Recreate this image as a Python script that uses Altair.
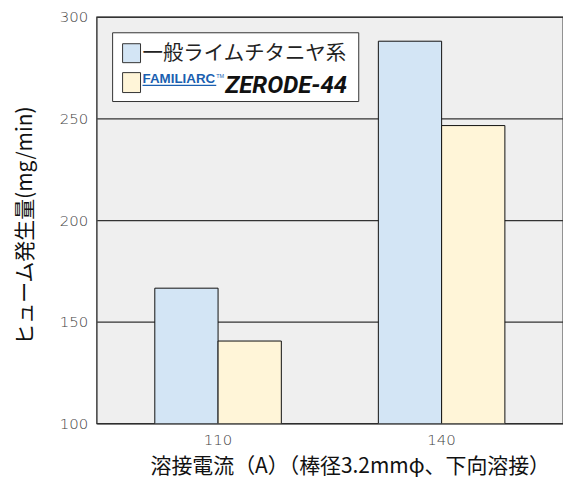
import altair as alt
import pandas as pd

currents = ["110", "110", "140", "140"]
series = ["一般ライムチタニヤ系", "ZERODE-44", "一般ライムチタニヤ系", "ZERODE-44"]
fume = [166.5, 140.5, 288, 246.5]

series_order = ["一般ライムチタニヤ系", "ZERODE-44"]
series_colors = ["#d3e5f5", "#fff5d8"]

FONT = "Noto Sans CJK JP"
NUMFONT = "DejaVu Sans"

df = pd.DataFrame({"current": currents, "series": series, "fume": fume})

bars = alt.Chart(df).mark_bar(stroke="#111111", strokeWidth=1, clip=True).encode(
    x=alt.X("current:N", sort=["110", "140"],
            scale=alt.Scale(paddingInner=0.434, paddingOuter=0.26),
            axis=alt.Axis(title="溶接電流（A）（棒径3.2mmφ、下向溶接）", labelAngle=0,
                          ticks=False, domain=False, labelFontSize=15, labelColor="#444444",
                          labelFontWeight=200, labelPadding=9, titleFontSize=21,
                          titleFontWeight="normal", titleColor="#111111", titlePadding=8,
                          titleX=254, labelFont=NUMFONT, titleFont=FONT)),
    xOffset=alt.XOffset("series:N", sort=series_order),
    y=alt.Y("fume:Q", scale=alt.Scale(domain=[100, 300], nice=False, zero=False),
            axis=alt.Axis(title="ヒューム発生量(mg/min)", values=[100, 150, 200, 250, 300],
                          ticks=False, domain=False, grid=True, gridColor="#333333", gridWidth=1.3,
                          labelFontSize=15, labelColor="#444444", labelFontWeight=200,
                          labelPadding=9, titleFontSize=21, titleFontWeight="normal",
                          titleColor="#111111", titlePadding=24, titleY=209,
                          labelFont=NUMFONT, titleFont=FONT)),
    color=alt.Color("series:N", sort=series_order,
                    scale=alt.Scale(domain=series_order, range=series_colors), legend=None),
)

one = pd.DataFrame({"a": [0]})
base = alt.Chart(one)

legend_box = base.mark_rect(fill="white", stroke="#333333", strokeWidth=1).encode(
    x=alt.value(16), x2=alt.value(263), y=alt.value(16), y2=alt.value(85))
sq1 = base.mark_rect(fill=series_colors[0], stroke="#333333", strokeWidth=1).encode(
    x=alt.value(26), x2=alt.value(44), y=alt.value(27), y2=alt.value(46))
sq2 = base.mark_rect(fill=series_colors[1], stroke="#333333", strokeWidth=1).encode(
    x=alt.value(26), x2=alt.value(44), y=alt.value(56), y2=alt.value(76))
t1 = base.mark_text(text=series_order[0], align="left", baseline="middle", fontSize=20.5,
                    font=FONT, color="#222222").encode(x=alt.value(46), y=alt.value(37))
logo = base.mark_text(text="FAMILIARC", align="left", baseline="alphabetic", fontSize=13.4,
                      font="Liberation Sans", fontWeight="bold", color="#1a5fb0").encode(
    x=alt.value(46), y=alt.value(66))
tm = base.mark_text(text="TM", align="left", baseline="alphabetic", fontSize=5.5,
                    font="Liberation Sans", color="#1a5fb0").encode(x=alt.value(120), y=alt.value(61))
underline = base.mark_rule(color="#1a5fb0", strokeWidth=1.5).encode(
    x=alt.value(46), x2=alt.value(120), y=alt.value(68.8))
zerode = base.mark_text(text="ZERODE-44", align="left", baseline="alphabetic", fontSize=24,
                        font="Roboto", fontWeight="bold", fontStyle="italic",
                        color="#111111").encode(x=alt.value(129), y=alt.value(76))

chart = alt.layer(bars, legend_box, sq1, sq2, t1, logo, tm, underline, zerode).properties(
    width=468, height=408,
    autosize=alt.AutoSizeParams(type="none"),
    padding={"left": 89, "top": 8, "right": 0, "bottom": 59},
    background="white",
).configure_view(stroke="#222222", strokeWidth=1.3, fill="#efefef")

chart.save("out.html", embed_options={"renderer": "svg", "actions": False})
